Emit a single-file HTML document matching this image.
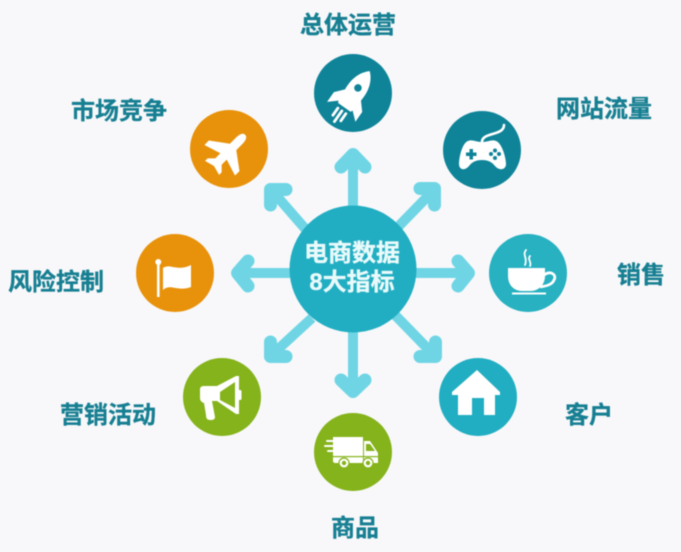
<!DOCTYPE html>
<html lang="zh">
<head>
<meta charset="utf-8">
<style>
html,body{margin:0;padding:0;width:681px;height:552px;overflow:hidden;background:#f8f8fa}
svg{display:block;filter:blur(.4px)}
.l{font-family:"Liberation Sans","Noto Sans CJK SC",sans-serif;font-weight:700;font-size:24px;fill:#167f92;stroke:#167f92;stroke-width:.3px;text-anchor:middle}
.c{font-family:"Liberation Sans","Noto Sans CJK SC",sans-serif;font-weight:700;font-size:24px;fill:#eafafb;stroke:#eafafb;stroke-width:.3px;text-anchor:middle}
</style>
</head>
<body>
<svg width="681" height="552" viewBox="0 0 681 552" xmlns="http://www.w3.org/2000/svg">
<rect width="681" height="552" fill="#f8f8fa"/>

<!-- arrows -->
<g fill="none" stroke="#6fd5e5" stroke-linecap="round" stroke-linejoin="round">
  <g stroke-width="10" stroke-linecap="butt">
    <path d="M353 215V160"/>
    <path d="M353 325V388"/>
    <path d="M400 273H464"/>
    <path d="M300 273H243"/>
    <path d="M395 230L430 194"/>
    <path d="M308 232L275 194"/>
    <path d="M312 318L275 352"/>
    <path d="M395 315L431 352"/>
  </g>
  <g stroke-width="13">
    <path d="M341 167L353 154.500L365 167"/>
    <path d="M341 380L353 391.500L365 380"/>
    <path d="M458 261L468.500 273L458 286"/>
    <path d="M248 261L237.500 273L248 286"/>
    <path d="M420 188.500H434.500V205"/>
    <path d="M286 189.500H270.500V205"/>
    <path d="M270.500 342V356.500H286"/>
    <path d="M435.500 342V356.500H420"/>
  </g>
</g>

<!-- center -->
<circle cx="353" cy="269" r="63.5" fill="#22aec2"/>
<text class="c" x="352" y="261">电商数据</text>
<text class="c" x="352" y="290">8大指标</text>

<!-- circles -->
<circle cx="353" cy="93" r="39" fill="#0f8499"/>
<circle cx="229" cy="149" r="39" fill="#e8920b"/>
<circle cx="175" cy="273" r="39" fill="#e8920b"/>
<circle cx="482" cy="150" r="39" fill="#0f8499"/>
<circle cx="528" cy="273" r="39" fill="#27b1c1"/>
<circle cx="478" cy="397" r="39" fill="#22aec2"/>
<circle cx="222" cy="397" r="39" fill="#85b31b"/>
<circle cx="353" cy="452" r="39" fill="#85b31b"/>

<!-- rocket -->
<g transform="translate(353 95) rotate(35) scale(1.08)">
  <path d="M0 -27C8 -20 10 -10 9 0L16 8L16 19L8 12L7 14H-7L-8 12L-16 19L-16 8L-9 0C-10 -10 -8 -20 0 -27Z" fill="#fff"/>
  <circle cx="0" cy="-8" r="3.500" fill="#0f8499"/>
  <g stroke="#fff" stroke-width="2.600" stroke-linecap="round">
    <path d="M-4.500 18V26"/><path d="M0 18V30"/><path d="M4.500 18V26"/>
  </g>
</g>

<!-- plane -->
<g transform="translate(228 152) rotate(45) scale(.9)">
  <path d="M0 -27C4 -27 5 -22 5 -16V-8L24 6V13L5 7V15L11 21V25L0 22L-11 25V21L-5 15V7L-24 13V6L-5 -8V-16C-5 -22 -4 -27 0 -27Z" fill="#fff"/>
</g>

<!-- flag -->
<g fill="#fff">
  <rect x="157" y="262" width="2.600" height="35"/>
  <circle cx="158.300" cy="262" r="3"/>
  <path d="M163 268C170 263 177 272 191 265V287C178 292 170 283 163 290Z"/>
</g>

<!-- gamepad -->
<g>
  <path d="M482 142C482 132 504 136 504 125" fill="none" stroke="#fff" stroke-width="2.600" stroke-linecap="round"/>
  <path d="M468 141C472 139 476 142 482 142C488 142 492 139 496 141C502 143 506 158 506 164C506 170 499 171 495 166C492 162 488 160 482 160C476 160 472 162 469 166C465 171 459 170 459 164C459 158 462 143 468 141Z" fill="#fff"/>
  <path d="M469.500 149H473V152.500H476.500V156H473V159.500H469.500V156H466V152.500H469.500Z" fill="#0f8499"/>
  <g fill="#0f8499">
    <circle cx="495" cy="150.500" r="2"/><circle cx="495" cy="158" r="2"/><circle cx="491" cy="154" r="2"/><circle cx="499" cy="154" r="2"/>
  </g>
</g>

<!-- cup -->
<g>
  <path d="M508 268H545V276C545 285 538 291 531 291H522C514 291 508 285 508 276Z" fill="#fff"/>
  <path d="M544 275C551 270 557 275 554 280C552 285 546 286 540 287" fill="none" stroke="#fff" stroke-width="2.800"/>
  <rect x="512" y="292.500" width="34" height="2" fill="#fff"/>
  <path d="M526 250C522 255 528 258 525 265M530 256C527 259 532 262 530 266" fill="none" stroke="#fff" stroke-width="1.800" stroke-linecap="round"/>
</g>

<!-- house -->
<path d="M477 370L500 392V395H495V415H484V398H472V415H458V395H452V392Z" fill="#fff"/>

<!-- megaphone -->
<g fill="#fff">
  <path d="M200 389C200 387 202 386 204 386H217L236 376H239V414H236L217 401H212L215 417C215 420 212 420 210 420C207 420 206 418 206 415L204 403C201 402 200 400 200 398Z"/>
  <path d="M220 392L235 382V408L220 400Z" fill="#85b31b"/>
  <rect x="238" y="390" width="3.500" height="10" rx="1.500"/>
</g>

<!-- truck -->
<g>
  <path d="M333 437H363V463H335C334 463 333 462 333 461Z" fill="#fff"/>
  <path d="M364 441H370L378 453V463H364Z" fill="#fff"/>
  <path d="M366 444H370L375 451H366Z" fill="#85b31b"/>
  <rect x="333" y="456" width="45" height="1.200" fill="#85b31b"/>
  <g stroke="#fff" stroke-width="2" stroke-linecap="round">
    <path d="M327 441H338"/><path d="M325 446H338"/><path d="M328 451H338"/>
  </g>
  <circle cx="344" cy="463" r="5" fill="#fff" stroke="#85b31b" stroke-width="1.200"/>
  <circle cx="344" cy="463" r="2.200" fill="#85b31b"/>
  <circle cx="368" cy="463" r="5" fill="#fff" stroke="#85b31b" stroke-width="1.200"/>
  <circle cx="368" cy="463" r="2.200" fill="#85b31b"/>
</g>

<!-- labels -->
<text class="l" x="348" y="33">总体运营</text>
<text class="l" x="119" y="119">市场竞争</text>
<text class="l" x="604" y="117">网站流量</text>
<text class="l" x="56" y="290">风险控制</text>
<text class="l" x="641" y="283">销售</text>
<text class="l" x="108" y="423">营销活动</text>
<text class="l" x="589" y="423">客户</text>
<text class="l" x="355" y="536">商品</text>
</svg>
</body>
</html>
